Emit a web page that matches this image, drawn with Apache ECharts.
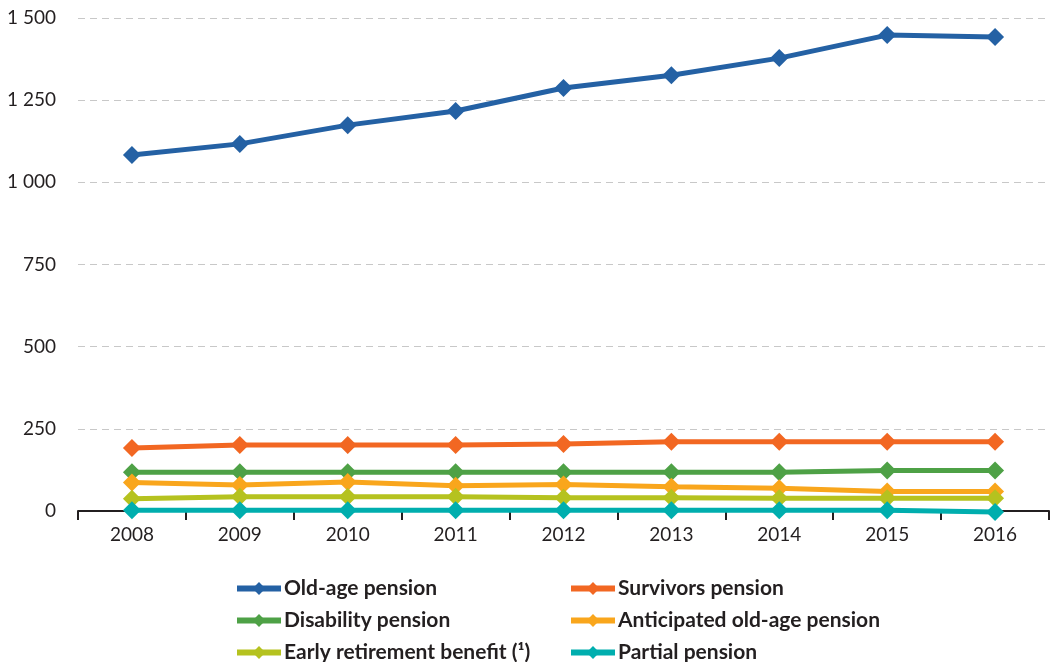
<!DOCTYPE html>
<html>
<head>
<meta charset="utf-8">
<script src="https://cdn.jsdelivr.net/npm/echarts@6/dist/echarts.min.js"></script>
<style>html,body{margin:0;padding:0;background:#fff}#c{width:1051px;height:662px}</style>
</head>
<body>
<div id="c"></div>
<script>
const years = ['2008','2009','2010','2011','2012','2013','2014','2015','2016'];
const oldAge = [1083,1117,1174,1217,1287,1326,1378,1448,1442];
const survivors = [192,201,201,201,204,211,211,211,211];
const disability = [118,118,118,118,118,118,118,123,123];
const anticipated = [87,79,88,77,81,74,69,59,59];
const earlyRetirement = [37,43,43,43,40,40,39,39,39];
const partial = [2,2,2,2,2,2,2,2,-3];
const names = ['Old-age pension','Survivors pension','Disability pension','Anticipated old-age pension','Early retirement benefit (¹)','Partial pension'];
const colors = ['#2461a4','#f26722','#4ea146','#f9a61c','#b5c21f','#00aeae'];
const dataSets = [oldAge,survivors,disability,anticipated,earlyRetirement,partial];

const chart = echarts.init(document.getElementById('c'));
const font = 'Lato, "Open Sans", sans-serif';
const legendCommon = {orient:'vertical',top:573,height:120,itemGap:11,itemWidth:44,itemHeight:16,
  lineStyle:{width:6},
  textStyle:{fontFamily:font,fontWeight:'bold',fontSize:21,color:'#231f20',padding:[0,0,0,-2]}};
chart.setOption({
  animation:false,
  color: colors,
  grid:{left:78,right:2,top:18,bottom:151,containLabel:false},
  legend:[
    Object.assign({data:[names[0],names[2],names[4]],left:229},legendCommon),
    Object.assign({data:[names[1],names[3],names[5]],left:563},legendCommon)
  ],
  xAxis:{type:'category',data:years,boundaryGap:true,
    axisLine:{lineStyle:{color:'#231f20',width:2}},
    axisTick:{show:true,length:9,lineStyle:{color:'#231f20',width:2}},
    axisLabel:{fontFamily:font,fontSize:19,color:'#231f20',margin:14}},
  yAxis:{type:'value',min:0,max:1500,interval:250,
    axisLine:{show:false},axisTick:{show:false},
    splitLine:{lineStyle:{color:'#c8c8c8',type:[7,5],width:1}},
    axisLabel:{fontFamily:font,fontSize:19,color:'#231f20',margin:22,
      formatter:v=>String(v).replace(/\B(?=(\d{3})+(?!\d))/g,' ')}},
  series: names.map((n,i)=>({name:n,type:'line',data:dataSets[i],symbol:'diamond',symbolSize:18,
    clip:false,lineStyle:{width:5,color:colors[i]},itemStyle:{color:colors[i]}}))
});
</script>
</body>
</html>
